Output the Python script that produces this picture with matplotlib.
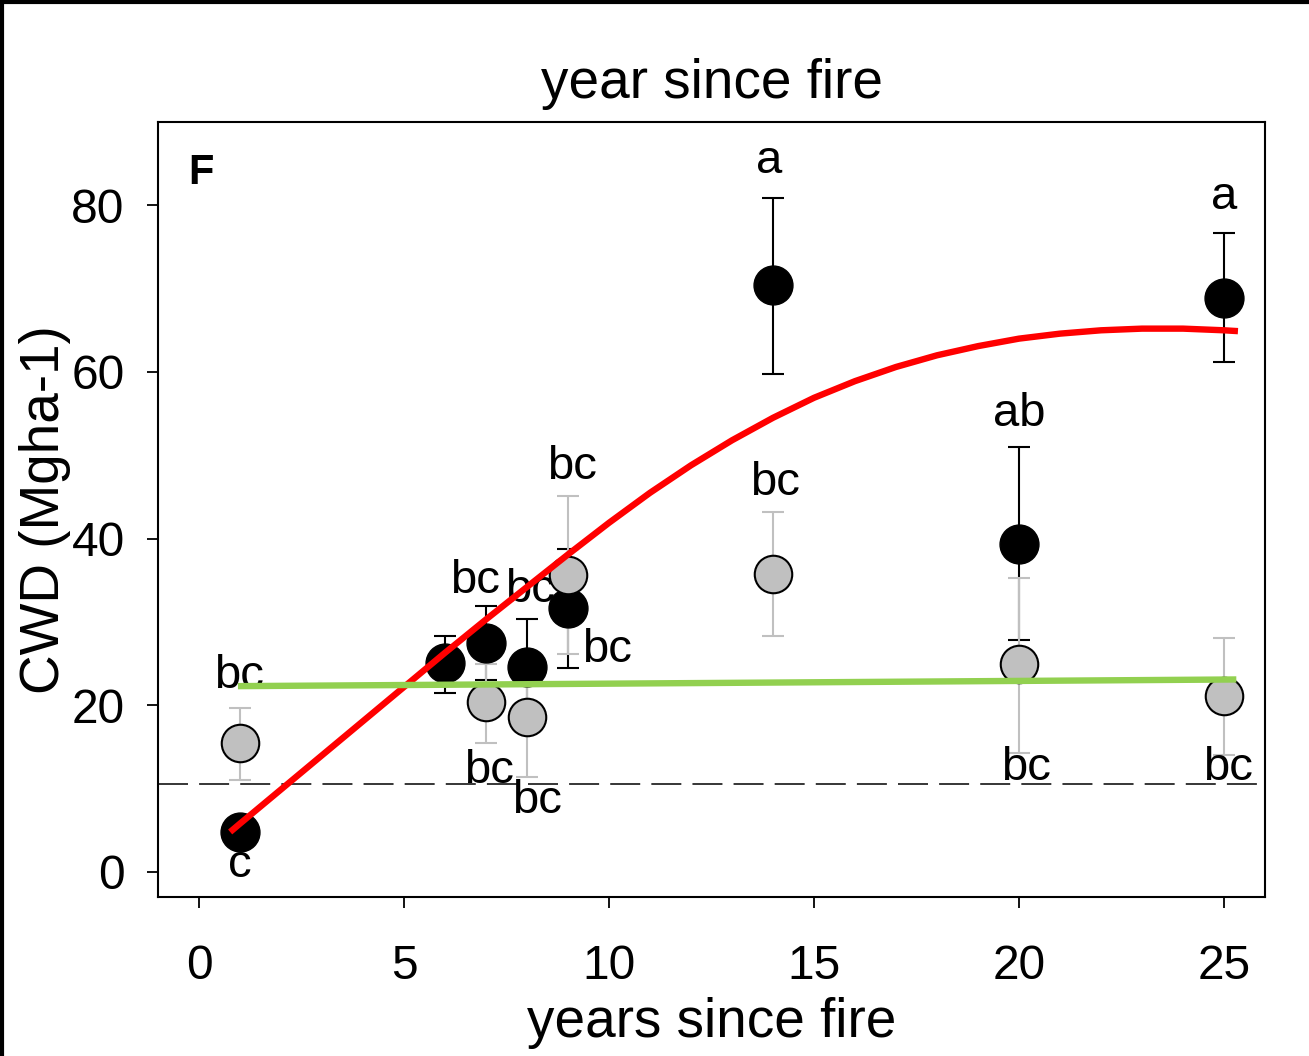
import matplotlib
matplotlib.use('Agg')
import matplotlib.pyplot as plt
from matplotlib.lines import Line2D

plt.rcParams['font.family'] = ['Liberation Sans', 'DejaVu Sans']
plt.rcParams['lines.scale_dashes'] = False

# black series (mean, lower end, upper end of error bar)
years_black = [1, 6, 7, 8, 9, 14, 20, 25]
cwd_black = [4.8, 25.1, 27.5, 24.6, 31.7, 70.4, 39.4, 68.9]
black_lo = [3.6, 21.5, 23.0, 19.0, 24.5, 59.7, 27.8, 61.2]
black_hi = [6.0, 28.3, 31.9, 30.3, 38.8, 80.9, 51.0, 76.7]

# grey series
years_gray = [1, 7, 8, 9, 14, 20, 25]
cwd_gray = [15.5, 20.4, 18.6, 35.6, 35.7, 24.9, 21.1]
gray_lo = [11.0, 15.5, 11.4, 26.1, 28.3, 14.3, 14.0]
gray_hi = [19.7, 25.0, 25.7, 45.1, 43.2, 35.3, 28.1]

# fitted curves
red_x = [0.76, 1, 2, 3, 4, 5, 6, 7, 8, 9, 10, 11, 12, 13, 14, 15, 16, 17, 18, 19, 20,
         21, 22, 23, 24, 25, 25.34]
red_y = [4.8, 5.8, 9.9, 14.0, 18.1, 22.2, 26.3, 30.3, 34.2, 38.1, 41.9, 45.5, 48.8, 51.8,
         54.5, 56.9, 58.9, 60.6, 62.0, 63.1, 64.0, 64.6, 65.0, 65.2, 65.2, 65.0, 64.9]
green_x = [0.95, 25.3]
green_y = [22.3, 23.1]
ref_level = 10.55

# significance letters (x, baseline y, text)
letters_x = [13.9, 25.0, 20.0, 14.05, 9.1, 6.74, 8.06, 9.96, 0.98, 1.0, 7.06, 8.25, 20.17, 25.1]
letters_y = [83.9, 79.6, 53.5, 45.2, 47.2, 33.5, 32.4, 25.2, 22.1, -0.6, 10.7, 7.1, 11.0, 11.0]
letters = ['a', 'a', 'ab', 'bc', 'bc', 'bc', 'bc', 'bc', 'bc', 'c', 'bc', 'bc', 'bc', 'bc']

fig = plt.figure(figsize=(13.09, 10.56), dpi=100)
ax = fig.add_axes([0.1207, 0.1506, 0.8457, 0.7339])

err_b = [[m - l for m, l in zip(cwd_black, black_lo)], [h - m for m, h in zip(cwd_black, black_hi)]]
err_g = [[m - l for m, l in zip(cwd_gray, gray_lo)], [h - m for m, h in zip(cwd_gray, gray_hi)]]

ax.errorbar(years_black, cwd_black, yerr=err_b, fmt='none', ecolor='black', elinewidth=1.5,
            capsize=8, capthick=1.5, zorder=2)
ax.errorbar(years_gray, cwd_gray, yerr=err_g, fmt='none', ecolor='#c0c0c0', elinewidth=1.5,
            capsize=8, capthick=1.5, zorder=2.5)

for x, y, t in zip(letters_x, letters_y, letters):
    ax.text(x, y, t, fontsize=34, ha='center', va='baseline', zorder=2.7)

ax.plot(years_black, cwd_black, 'o', color='black', markersize=28, zorder=3)
ax.plot(years_gray, cwd_gray, 'o', color='#c0c0c0', markeredgecolor='black', markeredgewidth=1.5,
        markersize=27, zorder=3.5)

ax.axhline(ref_level, color='black', lw=1.1, dashes=(21.6, 8), zorder=4)
ax.plot(red_x, red_y, color='#ff0000', lw=4.6, zorder=5, solid_capstyle='butt',
        solid_joinstyle='round')
ax.plot(green_x, green_y, color='#92d050', lw=4.6, zorder=5, solid_capstyle='butt')

ax.text(-0.27, 82.6, 'F', fontsize=30, fontweight='bold', ha='left', va='baseline')

ax.set_xlim(-1, 26)
ax.set_ylim(-3, 90)
ax.set_xticks([0, 5, 10, 15, 20, 25])
ax.set_yticks([0, 20, 40, 60, 80])
ax.tick_params(axis='x', direction='out', length=8, width=1.3, labelsize=34.5, pad=26)
ax.tick_params(axis='y', direction='out', length=8, width=1.3, labelsize=34.5, pad=16)
for s in ax.spines.values():
    s.set_linewidth(1.5)

fig.text(0.5437, 0.9072, 'year since fire', fontsize=39.5, ha='center', va='baseline')
fig.text(0.5437, 0.018, 'years since fire', fontsize=39.5, ha='center', va='baseline')
fig.text(0.0344, 0.5175, 'CWD (Mgha-1)', fontsize=39.5, rotation=90, ha='center', va='center')

# frame of the figure (only left and top visible)
fig.add_artist(Line2D([0.0015, 0.0015], [0, 1], color='black', lw=3, transform=fig.transFigure))
fig.add_artist(Line2D([0, 1], [0.9985, 0.9985], color='black', lw=3, transform=fig.transFigure))

fig.savefig('out.png', dpi=100)
